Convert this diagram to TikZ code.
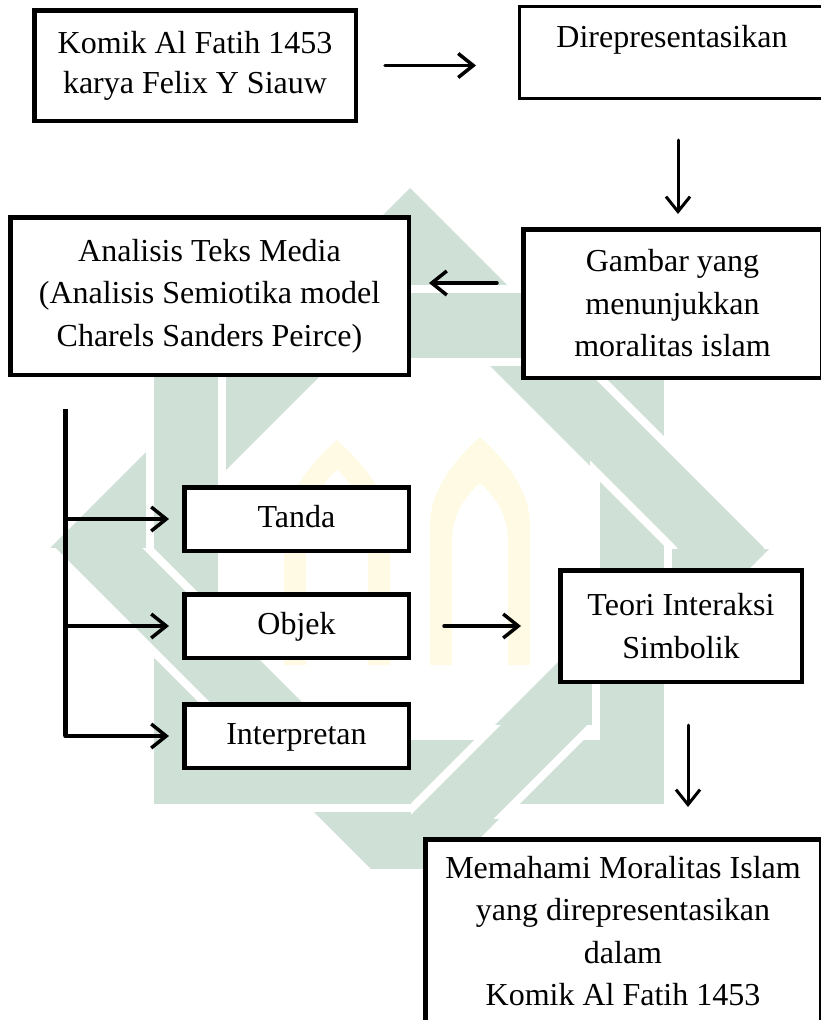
\documentclass[tikz,border=0pt]{standalone}
\usepackage{fontspec}
\setmainfont{Liberation Serif}
\usetikzlibrary{arrows.meta,positioning}

\definecolor{wmgreen}{RGB}{207,224,214}
\definecolor{wmyellow}{RGB}{255,250,228}

\tikzset{
  box/.style={draw, line width=4.5pt, fill=white, align=center, inner sep=0pt,
    font=\fontsize{32}{42.5}\selectfont},
  thinbox/.style={box, line width=3pt},
  smallbox/.style={box, minimum width=224.5pt, minimum height=63.5pt,
    text height=22pt, text depth=5pt},
  arr/.style={line width=3.5pt, line cap=round, -{Straight Barb[length=15pt,width=24pt]}},
  diamondpath/.style={wmgreen, even odd rule, draw=white, line width=8pt},
}

\begin{document}
\begin{tikzpicture}[x=1pt,y=-1pt]
\useasboundingbox (0,0) rectangle (821,1020);

% watermark
\begin{scope}
  \clip (0,0) rectangle (821,868);
  \fill[wmgreen, even odd rule] (410,188) -- (770,548) -- (410,908) -- (50,548) -- cycle
    (410,286) -- (672,548) -- (410,810) -- (148,548) -- cycle;
  \filldraw[diamondpath] (150,289) rectangle (668,808) (222,362) rectangle (596,736);
  \begin{scope}
    \clip (590,290) rectangle (800,548);
    \filldraw[diamondpath] (410,188) -- (770,548) -- (410,908) -- (50,548) -- cycle
      (410,286) -- (672,548) -- (410,810) -- (148,548) -- cycle;
  \end{scope}
  \begin{scope}
    \clip (40,548) rectangle (232,745);
    \filldraw[diamondpath] (410,188) -- (770,548) -- (410,908) -- (50,548) -- cycle
      (410,286) -- (672,548) -- (410,810) -- (148,548) -- cycle;
  \end{scope}
  \begin{scope}
    \clip (411,725) rectangle (596,818);
    \filldraw[diamondpath] (410,188) -- (770,548) -- (410,908) -- (50,548) -- cycle
      (410,286) -- (672,548) -- (410,810) -- (148,548) -- cycle;
  \end{scope}
  \fill[wmyellow, even odd rule]
    (284,665) -- (284,530) .. controls (284,490) and (320,455) .. (337,440)
      .. controls (354,455) and (390,490) .. (390,530) -- (390,665) -- cycle
    (306,665) -- (306,540) .. controls (306,505) and (325,480) .. (337,470)
      .. controls (349,480) and (368,505) .. (368,540) -- (368,665) -- cycle;
  \fill[wmyellow, even odd rule]
    (430,665) -- (430,525) .. controls (430,485) and (463,452) .. (480,437)
      .. controls (497,452) and (530,485) .. (530,525) -- (530,665) -- cycle
    (452,665) -- (452,540) .. controls (452,510) and (470,492) .. (480,483)
      .. controls (490,492) and (508,510) .. (508,540) -- (508,665) -- cycle;
\end{scope}

% boxes
\node[box, font=\fontsize{32}{40}\selectfont, minimum width=321.5pt, minimum height=110.5pt]
  (komik) at (195,65.5) {Komik Al Fatih 1453\\karya Felix Y Siauw};
\node[thinbox, minimum width=305pt, minimum height=92pt, text height=22pt, text depth=33pt]
  (rep) at (672,52.5) {Direpresentasikan};
\node[box, minimum width=298.5pt, minimum height=148.5pt]
  (gambar) at (672.5,303.5) {Gambar yang\\menunjukkan\\moralitas islam};
\node[box, minimum width=398.5pt, minimum height=157.5pt]
  (analisis) at (209.5,296) {Analisis Teks Media\\(Analisis Semiotika model\\Charels Sanders Peirce)};
\node[smallbox] (tanda) at (296.5,519) {Tanda};
\node[smallbox] (objek) at (296.5,626) {Objek};
\node[smallbox] (interp) at (296.5,736) {Interpretan};
\node[box, minimum width=241.5pt, minimum height=111.5pt]
  (teori) at (681,626) {Teori Interaksi\\Simbolik};
\node[box, minimum width=395.5pt, minimum height=183.5pt]
  (paham) at (623,931) {Memahami Moralitas Islam\\yang direpresentasikan\\dalam\\Komik Al Fatih 1453};

% connectors
\coordinate (r1) at ([xshift=6pt]rep.south);
\coordinate (g1) at ([yshift=20.5pt]gambar.west);
\coordinate (t1) at ([xshift=7pt]teori.south);
\coordinate (trunk) at (65,409);

\draw[arr, shorten <=27pt, shorten >=42pt] (komik.east) -- (komik.east -| rep.west);
\draw[arr, line width=3pt, shorten <=40pt, shorten >=13pt] (r1) -- (r1 |- gambar.north);
\draw[arr, shorten <=24pt, shorten >=18pt] (g1) -- (g1 -| analisis.east);
\draw[line width=5pt] (trunk) -- (trunk |- interp.west);
\foreach \n in {tanda,objek,interp}
  \draw[arr, shorten >=13pt] (trunk |- \n.west) -- (\n.west);
\draw[arr, shorten <=33pt, shorten >=37pt] (objek.east) -- (teori.west);
\draw[arr, line width=3pt, shorten <=41pt, shorten >=30pt] (t1) -- (t1 |- paham.north);
\end{tikzpicture}
\end{document}
